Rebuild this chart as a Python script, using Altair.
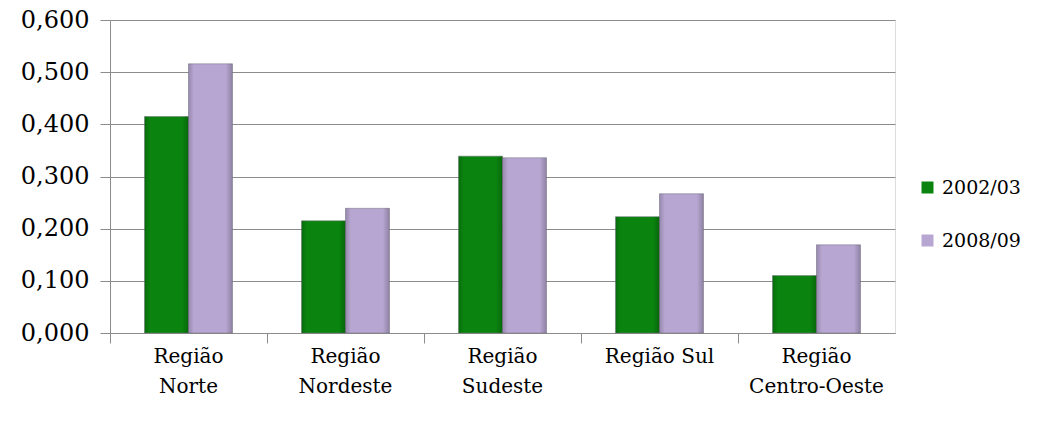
import altair as alt
import pandas as pd

regions = ["Região Norte", "Região Nordeste", "Região Sudeste", "Região Sul", "Região Centro-Oeste"]
series = ["2002/03", "2008/09"]
v2002 = [0.415, 0.215, 0.339, 0.223, 0.110]
v2008 = [0.516, 0.239, 0.336, 0.267, 0.169]
y_ticks = [0.0, 0.1, 0.2, 0.3, 0.4, 0.5, 0.6]
colors = ["#0a840e", "#b7a6d1"]

rows = []
for r, a, b in zip(regions, v2002, v2008):
    rows.append({"regiao": r, "periodo": series[0], "valor": a})
    rows.append({"regiao": r, "periodo": series[1], "valor": b})
df = pd.DataFrame(rows)

WIDE = "DejaVu Serif"

x_enc = alt.X("regiao:N", sort=regions, title=None,
              scale=alt.Scale(paddingInner=0.44, paddingOuter=0.22),
              axis=alt.Axis(bandPosition=-0.392, labelAngle=0,
                            labelExpr="datum.label == 'Região Sul' ? datum.label : split(datum.label, ' ')",
                            labelFont=WIDE, labelFontSize=20, labelColor="#000000",
                            labelPadding=3, labelLineHeight=30, labelBaseline="top",
                            tickSize=10, tickColor="#8c8c8c", domainColor="#8c8c8c",
                            labelAlign="center"))
y_enc = alt.Y("valor:Q", title=None,
              scale=alt.Scale(domain=[0, 0.6], nice=False),
              axis=alt.Axis(values=y_ticks,
                            labelExpr="replace(format(datum.value, '.3f'), '.', ',')",
                            labelFont=WIDE, labelFontSize=24, labelColor="#000000",
                            labelPadding=11, tickSize=10, tickColor="#8c8c8c",
                            domainColor="#8c8c8c", gridColor="#8c8c8c", gridWidth=1))
off_enc = alt.XOffset("periodo:N", sort=series)

bars = alt.Chart(df).mark_bar(stroke="#6e6e7a", strokeWidth=0.8, strokeOpacity=0.6).encode(
    x=x_enc, xOffset=off_enc, y=y_enc,
    color=alt.Color("periodo:N", sort=series,
                    scale=alt.Scale(domain=series, range=colors),
                    legend=alt.Legend(title=None, orient="none", legendX=808, legendY=158,
                                      labelFont=WIDE, labelFontSize=19, labelColor="#000000",
                                      symbolType="square", symbolSize=144, symbolStrokeWidth=0,
                                      rowPadding=33, labelOffset=5)),
)

shade = alt.Chart(df).mark_bar(
    fill=alt.Gradient(
        gradient="linear", x1=0, x2=1, y1=0, y2=0,
        stops=[
            alt.GradientStop(offset=0, color="rgba(0,0,0,0.18)"),
            alt.GradientStop(offset=0.12, color="rgba(0,0,0,0)"),
            alt.GradientStop(offset=0.85, color="rgba(0,0,0,0)"),
            alt.GradientStop(offset=1, color="rgba(0,0,0,0.22)"),
        ],
    )
).encode(x=x_enc, xOffset=off_enc, y=y_enc)

chart = alt.layer(bars, shade).properties(
    width=785, height=313,
    autosize=alt.AutoSizeParams(type="none"),
    padding={"left": 110, "top": 20, "right": 161, "bottom": 92},
).configure_view(stroke=None).configure(background="#ffffff", font=WIDE)

chart.save("out.html", embed_options={"renderer": "svg", "actions": False})
